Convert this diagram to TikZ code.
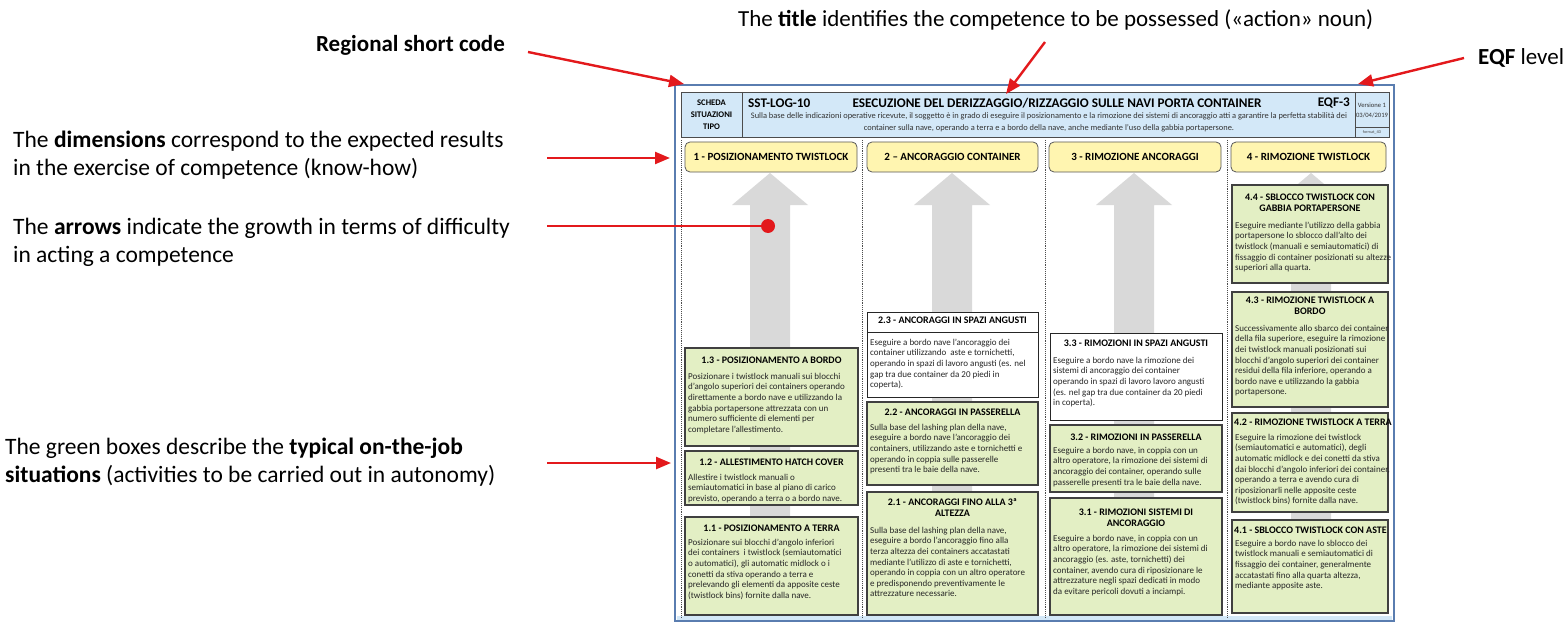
\documentclass[tikz,border=0pt]{standalone}
\usepackage{fontspec}
\setmainfont{Carlito}
\usetikzlibrary{arrows.meta,fit}
\definecolor{redc}{HTML}{E3191C}
\definecolor{framec}{HTML}{5A7DB0}
\definecolor{headfill}{HTML}{D3E8F8}
\definecolor{yelfill}{HTML}{FFF5B0}
\definecolor{grnfill}{HTML}{E3EFC4}
\definecolor{arrgray}{HTML}{D9D9D9}
\begin{document}
\begin{tikzpicture}[x=1pt,y=-1pt,
  ann/.style={anchor=north west, align=left, inner sep=0pt, font=\fontsize{23.5}{28}\selectfont},
  annline/.style={inner sep=0pt, font=\fontsize{23}{28}\selectfont},
  redarr/.style={draw=redc, line width=2.4pt, -{Triangle[length=15pt,width=12pt]}},
  gbox/.style={draw=black!75, line width=1.2pt, fill=grnfill, inner sep=0pt},
  wbox/.style={draw=black!85, line width=0.9pt, fill=white, inner sep=0pt},
  btitle/.style={anchor=north, align=center, inner sep=0pt, font=\fontsize{10}{10.8}\selectfont\bfseries},
  bbody/.style={anchor=north west, align=left, inner sep=0pt, text=black!85, font=\fontsize{9}{10.6}\selectfont},
  colhead/.style={draw=black!65, line width=0.8pt, fill=yelfill, rounded corners=5pt, inner sep=0pt},
  coltext/.style={inner sep=0pt, font=\fontsize{11}{13}\selectfont\bfseries},
  sepline/.style={draw=black!70, densely dotted, line width=0.9pt},
  garrow/.style={fill=arrgray, draw=none},
  hdrbold/.style={inner sep=0pt, font=\fontsize{13.2}{15}\selectfont\bfseries},
  hdrsmall/.style={inner sep=0pt, text=black!80, font=\fontsize{8.4}{10}\selectfont}
]
\useasboundingbox (0,0) rectangle (1568,623);
\fill[white] (0,0) rectangle (1568,623);

% ---------- form frame ----------
\node[draw=framec, line width=2.4pt, inner sep=0pt, fit={(675,85) (1394,621)}] (frame) {};
\fill[headfill] (677,616) rectangle (1392,620);

% header
\node[draw=black!70, line width=0.9pt, fill=headfill, inner sep=0pt, fit={(681,92) (1389,137)}] (hdr) {};
\draw[black!70, line width=0.9pt] (742,92) -- (742,137);
\draw[black!70, line width=0.9pt] (1355,92) -- (1355,137);
\draw[black!70, line width=0.6pt] (1355,127) -- (1389,127);
\node[inner sep=0pt, align=center, font=\fontsize{8.6}{12}\selectfont\bfseries] (scheda) at (711.5,115) {SCHEDA\\SITUAZIONI\\TIPO};
\node[hdrbold, anchor=west] (code) at (748,103) {SST-LOG-10};
\node[hdrbold] (htitle) at (1057,103) {ESECUZIONE DEL DERIZZAGGIO/RIZZAGGIO SULLE NAVI PORTA CONTAINER};
\node[hdrbold, anchor=east] (eqf3) at (1350,103) {EQF-3};
\node[hdrsmall] (sub1) at (1049,116) {Sulla base delle indicazioni operative ricevute, il soggetto è in grado di eseguire il posizionamento e la rimozione dei sistemi di ancoraggio atti a garantire la perfetta stabilità dei};
\node[hdrsmall] (sub2) at (1049,128) {container sulla nave, operando a terra e a bordo della nave, anche mediante l'uso della gabbia portapersone.};
\node[inner sep=0pt, align=center, text=black!80, font=\fontsize{6.6}{10}\selectfont] (vers) at (1372,110) {Versione 1\\03/04/2019};
\node[inner sep=0pt, text=black!70, font=\fontsize{4.2}{5}\selectfont] (fmt) at (1372,132.5) {format\_4D};

% column separators
\draw[sepline] (681,140) -- (681,618);
\draw[sepline] (862,140) -- (862,618);
\draw[sepline] (1045,140) -- (1045,618);
\draw[sepline] (1227,140) -- (1227,618);

% grey growth arrows
\foreach \c in {770,952,1134,1311}{
  \fill[garrow] (\c-20,612) -- (\c-20,205) -- (\c-38,205) -- (\c,173) -- (\c+38,205) -- (\c+20,205) -- (\c+20,612) -- cycle;
}

% column headers
\node[colhead, fit={(685,142) (857,172)}] (h1) {};
\node[coltext] (h1t) at (h1.center) {1 - POSIZIONAMENTO TWISTLOCK};
\node[colhead, fit={(867,142) (1038,172)}] (h2) {};
\node[coltext] (h2t) at (h2.center) {2 – ANCORAGGIO CONTAINER};
\node[colhead, fit={(1049,142) (1221,172)}] (h3) {};
\node[coltext] (h3t) at (h3.center) {3 - RIMOZIONE ANCORAGGI};
\node[colhead, fit={(1231,142) (1386,172)}] (h4) {};
\node[coltext] (h4t) at (h4.center) {4 - RIMOZIONE TWISTLOCK};

% ---------- column 1 ----------
\node[gbox, fit={(685,348) (858,446)}] (b13) {};
\node[btitle] (b13t) at (771.5,355.6) {\strut 1.3 - POSIZIONAMENTO A BORDO};
\node[bbody] (b13b) at (688,371.6) {\strut Posizionare i twistlock manuali sui blocchi\\d'angolo superiori dei containers operando\\direttamente a bordo nave e utilizzando la\\gabbia portapersone attrezzata con un\\numero sufficiente di elementi per\\completare l'allestimento.};

\node[gbox, fit={(685,451) (858,505)}] (b12) {};
\node[btitle] (b12t) at (771.5,457.6) {\strut 1.2 - ALLESTIMENTO HATCH COVER};
\node[bbody] (b12b) at (688,472.6) {\strut Allestire i twistlock manuali o\\semiautomatici in base al piano di carico\\previsto, operando a terra o a bordo nave.};

\node[gbox, fit={(685,517) (858,615)}] (b11) {};
\node[btitle] (b11t) at (771.5,523.6) {\strut 1.1 - POSIZIONAMENTO A TERRA};
\node[bbody] (b11b) at (688,537.6) {\strut Posizionare sui blocchi d'angolo inferiori\\dei containers \ i twistlock (semiautomatici\\o automatici), gli automatic midlock o i\\conetti da stiva operando a terra e\\prelevando gli elementi da apposite ceste\\(twistlock bins) fornite dalla nave.};

% ---------- column 2 ----------
\node[wbox, fit={(867,312) (1038,397)}] (b23) {};
\draw[black!85, line width=0.9pt] (867,332) -- (1038,332);
\node[btitle] (b23t) at (952.5,315.6) {\strut 2.3 - ANCORAGGI IN SPAZI ANGUSTI};
\node[bbody] (b23b) at (870,337.6) {\strut Eseguire a bordo nave l'ancoraggio dei\\container utilizzando \ aste e tornichetti,\\operando in spazi di lavoro angusti (es. nel\\gap tra due container da 20 piedi in\\coperta).};

\node[gbox, fit={(867,402) (1038,485)}] (b22) {};
\node[btitle] (b22t) at (952.5,407.6) {\strut 2.2 - ANCORAGGI IN PASSERELLA};
\node[bbody] (b22b) at (870,422.6) {\strut Sulla base del lashing plan della nave,\\eseguire a bordo nave l'ancoraggio dei\\containers, utilizzando aste e tornichetti e\\operando in coppia sulle passerelle\\presenti tra le baie della nave.};

\node[gbox, fit={(867,492) (1038,615)}] (b21) {};
\node[btitle] (b21t) at (952.5,497.6) {\strut 2.1 - ANCORAGGI FINO ALLA 3ª\\ALTEZZA};
\node[bbody] (b21b) at (870,525.6) {\strut Sulla base del lashing plan della nave,\\eseguire a bordo l'ancoraggio fino alla\\terza altezza dei containers accatastati\\mediante l'utilizzo di aste e tornichetti,\\operando in coppia con un altro operatore\\e predisponendo preventivamente le\\attrezzature necessarie.};

% ---------- column 3 ----------
\node[wbox, fit={(1050,333) (1222,420)}] (b33) {};
\node[btitle] (b33t) at (1136,338.6) {\strut 3.3 - RIMOZIONI IN SPAZI ANGUSTI};
\node[bbody] (b33b) at (1053,355.6) {\strut Eseguire a bordo nave la rimozione dei\\sistemi di ancoraggio dei container\\operando in spazi di lavoro lavoro angusti\\(es. nel gap tra due container da 20 piedi\\in coperta).};

\node[gbox, fit={(1050,425) (1222,492)}] (b32) {};
\node[btitle] (b32t) at (1136,432.6) {\strut 3.2 - RIMOZIONI IN PASSERELLA};
\node[bbody] (b32b) at (1053,445.6) {\strut Eseguire a bordo nave, in coppia con un\\altro operatore, la rimozione dei sistemi di\\ancoraggio dei container, operando sulle\\passerelle presenti tra le baie della nave.};

\node[gbox, fit={(1050,498) (1222,615)}] (b31) {};
\node[btitle] (b31t) at (1136,507.6) {\strut 3.1 - RIMOZIONI SISTEMI DI\\ANCORAGGIO};
\node[bbody] (b31b) at (1053,533.6) {\strut Eseguire a bordo nave, in coppia con un\\altro operatore, la rimozione dei sistemi di\\ancoraggio (es. aste, tornichetti) dei\\container, avendo cura di riposizionare le\\attrezzature negli spazi dedicati in modo\\da evitare pericoli dovuti a inciampi.};

% ---------- column 4 (clipped at the frame) ----------
\begin{scope}
\clip (1226,178) rectangle (1391,618);
\node[gbox, fit={(1232,185) (1388,283)}] (b44) {};
\node[btitle] (b44t) at (1310,192.6) {\strut 4.4 - SBLOCCO TWISTLOCK CON\\GABBIA PORTAPERSONE};
\node[bbody] (b44b) at (1235,220.6) {\strut Eseguire mediante l'utilizzo della gabbia\\portapersone lo sblocco dall'alto dei\\twistlock (manuali e semiautomatici) di\\fissaggio di container posizionati su altezze\\superiori alla quarta.};

\node[gbox, fit={(1232,292) (1388,407)}] (b43) {};
\node[btitle] (b43t) at (1310,295.6) {\strut 4.3 - RIMOZIONE TWISTLOCK A\\BORDO};
\node[bbody] (b43b) at (1235,323.6) {\strut Successivamente allo sbarco dei container\\della fila superiore, eseguire la rimozione\\dei twistlock manuali posizionati sui\\blocchi d'angolo superiori dei container\\residui della fila inferiore, operando a\\bordo nave e utilizzando la gabbia\\portapersone.};

\node[gbox, fit={(1232,413) (1388,512)}] (b42) {};
\node[btitle, anchor=north west] (b42t) at (1234,417.6) {\strut 4.2 - RIMOZIONE TWISTLOCK A TERRA};
\node[bbody] (b42b) at (1235,432.6) {\strut Eseguire la rimozione dei twistlock\\(semiautomatici e automatici), degli\\automatic midlock e dei conetti da stiva\\dai blocchi d'angolo inferiori dei container,\\operando a terra e avendo cura di\\riposizionarli nelle apposite ceste\\(twistlock bins) fornite dalla nave.};

\node[gbox, fit={(1232,520) (1388,613)}] (b41) {};
\node[btitle, anchor=north west] (b41t) at (1234,525.6) {\strut 4.1 - SBLOCCO TWISTLOCK CON ASTE};
\node[bbody] (b41b) at (1235,538.6) {\strut Eseguire a bordo nave lo sblocco dei\\twistlock manuali e semiautomatici di\\fissaggio dei container, generalmente\\accatastati fino alla quarta altezza,\\mediante apposite aste.};
\end{scope}

% ---------- annotations ----------
\node[annline, anchor=base east] (regional) at (505,52) {\textbf{Regional short code}};
\node[annline, anchor=base west] (titleann) at (738,27) {The \textbf{title} identifies the competence to be possessed («action» noun)};
\node[annline, anchor=base west] (eqfann) at (1478,65) {\textbf{EQF} level};
\node[ann] (dimann) at (13,128) {\strut The \textbf{dimensions} correspond to the expected results\\in the exercise of competence (know-how)};
\node[ann] (arrann) at (13,215) {\strut The \textbf{arrows} indicate the growth in terms of difficulty\\in acting a competence};
\node[ann] (grnann) at (5,435) {\strut The green boxes describe the \textbf{typical on-the-job}\\\textbf{situations} (activities to be carried out in autonomy)};

\coordinate (regS) at (528,52);  \coordinate (regT) at (684,84);
\coordinate (titS) at (1045,42); \coordinate (titT) at (1006,94);
\coordinate (eqfS) at (1464,58); \coordinate (eqfT) at (1358,84);
\coordinate (dimS) at (547,158); \coordinate (dimT) at (670,158);
\coordinate (arrS) at (547,226);
\coordinate (grnS) at (547,463); \coordinate (grnT) at (671,463);
\node[circle, fill=redc, inner sep=0pt, minimum size=14pt] (dot) at (768,226) {};

\draw[redarr] (regS) -- (regT);
\draw[redarr] (titS) -- (titT);
\draw[redarr] (eqfS) -- (eqfT);
\draw[redarr] (dimS) -- (dimT);
\draw[redc, line width=2.4pt] (arrS) -- (dot.center);
\draw[redarr] (grnS) -- (grnT);
\end{tikzpicture}
\end{document}
